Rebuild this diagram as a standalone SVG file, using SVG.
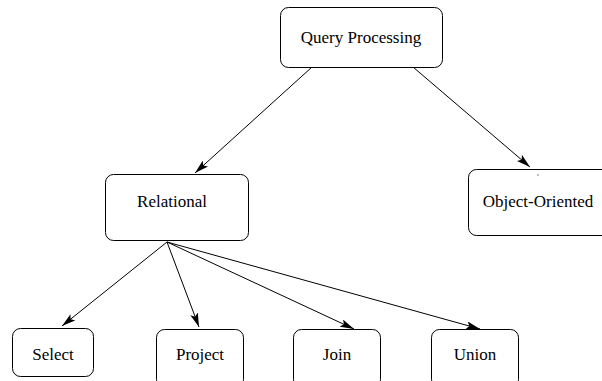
<svg xmlns="http://www.w3.org/2000/svg" width="602" height="381" viewBox="0 0 602 381">
  <style>
    .box { fill: #ffffff; stroke: #000000; stroke-width: 1; }
    .lbl { font-family: "Liberation Serif", "Times New Roman", serif; font-size: 17px; fill: #000000; text-anchor: middle; }
    .edge { fill: none; stroke: #000000; stroke-width: 1; marker-end: url(#arrow); }
  </style>
  <defs>
    <marker id="arrow" viewBox="0 0 14 8" refX="14" refY="4" markerWidth="14" markerHeight="8" markerUnits="userSpaceOnUse" orient="auto">
      <path d="M0,0 L14,4 L0,8 L3,4 Z" fill="#000000"/>
    </marker>
  </defs>
  <rect width="602" height="381" fill="#ffffff"/>

  <g id="connectors">
    <line class="edge" x1="312" y1="67" x2="195" y2="173"/>
    <line class="edge" x1="413" y1="67" x2="530" y2="167"/>
    <line class="edge" x1="167" y1="242" x2="62" y2="326"/>
    <line class="edge" x1="167" y1="242" x2="199" y2="327"/>
    <line class="edge" x1="167" y1="242" x2="354" y2="329"/>
    <line class="edge" x1="167" y1="242" x2="480" y2="329"/>
  </g>

  <g id="query-processing">
    <rect class="box" x="280.5" y="7.5" width="162" height="60" rx="8"/>
    <text class="lbl" x="361" y="43">Query Processing</text>
  </g>
  <g id="relational">
    <rect class="box" x="105.5" y="174.5" width="143" height="66" rx="8"/>
    <text class="lbl" x="172" y="207">Relational</text>
  </g>
  <g id="object-oriented">
    <rect class="box" x="468.5" y="169.5" width="150" height="66" rx="8"/>
    <rect x="537.5" y="174.5" width="1" height="1" fill="#000000"/>
    <text class="lbl" x="538" y="207">Object-Oriented</text>
  </g>
  <g id="select">
    <rect class="box" x="12.5" y="328.5" width="81" height="48" rx="8"/>
    <text class="lbl" x="53" y="360">Select</text>
  </g>
  <g id="project">
    <rect class="box" x="156.5" y="329.5" width="87" height="58" rx="8"/>
    <text class="lbl" x="200" y="360">Project</text>
  </g>
  <g id="join">
    <rect class="box" x="293.5" y="329.5" width="87" height="58" rx="8"/>
    <text class="lbl" x="337" y="360">Join</text>
  </g>
  <g id="union">
    <rect class="box" x="431.5" y="329.5" width="87" height="58" rx="8"/>
    <text class="lbl" x="475" y="360">Union</text>
  </g>
</svg>
